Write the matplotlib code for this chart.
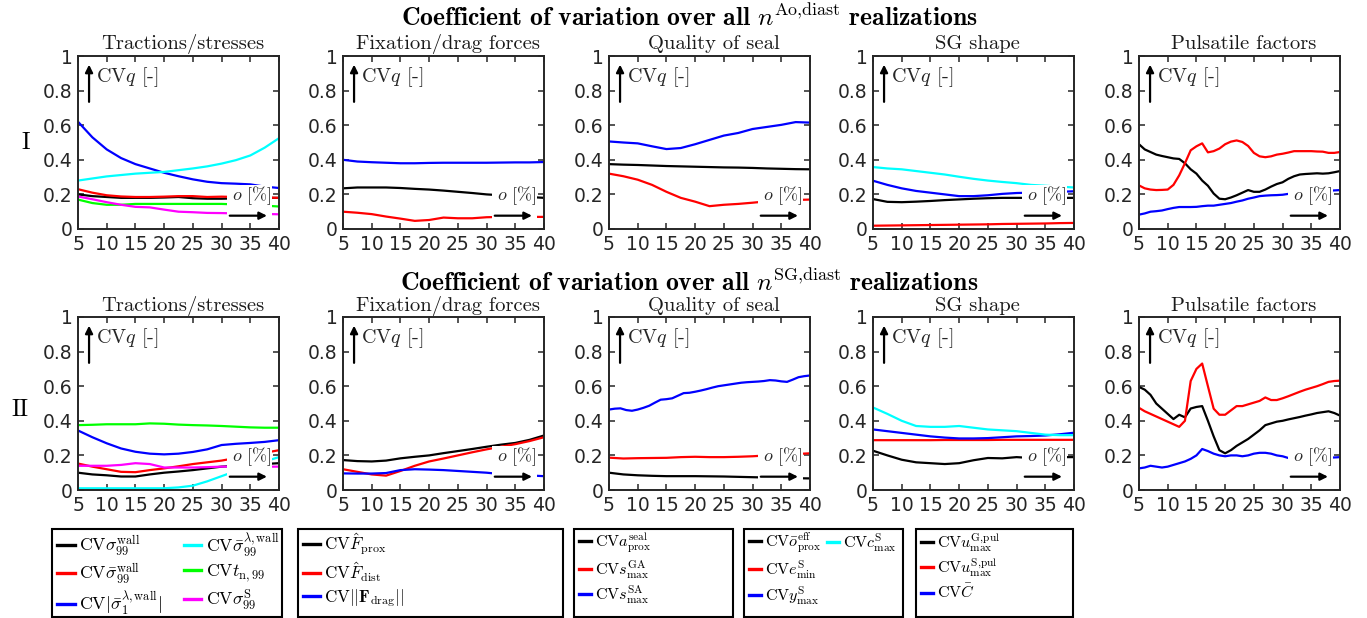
import numpy as np
import matplotlib
matplotlib.use('Agg')
import matplotlib.pyplot as plt
from matplotlib.patches import Rectangle
from matplotlib.lines import Line2D

plt.rcParams['mathtext.fontset'] = 'cm'
plt.rcParams['font.family'] = 'DejaVu Sans'
plt.rcParams['axes.unicode_minus'] = False

# ---------------- data ----------------
o_coarse = [5, 7.5, 10, 12.5, 15, 17.5, 20, 22.5, 25, 27.5, 30, 32.5, 35, 37.5, 40]
o_fine = list(range(5, 41))

# Row I (Ao,diast)
I_trac_black = [0.20, 0.19, 0.185, 0.18, 0.18, 0.18, 0.182, 0.185, 0.178, 0.175, 0.175, 0.177, 0.178, 0.18, 0.18]
I_trac_red = [0.23, 0.21, 0.195, 0.188, 0.185, 0.185, 0.187, 0.19, 0.19, 0.185, 0.187, 0.185, 0.183, 0.182, 0.18]
I_trac_blue = [0.62, 0.53, 0.46, 0.41, 0.375, 0.35, 0.325, 0.305, 0.287, 0.273, 0.265, 0.262, 0.258, 0.245, 0.237]
I_trac_cyan = [0.28, 0.292, 0.304, 0.312, 0.32, 0.325, 0.33, 0.34, 0.35, 0.362, 0.378, 0.398, 0.425, 0.47, 0.525]
I_trac_green = [0.17, 0.15, 0.14, 0.14, 0.145, 0.145, 0.145, 0.145, 0.145, 0.145, 0.145, 0.142, 0.14, 0.135, 0.13]
I_trac_magenta = [0.188, 0.172, 0.155, 0.14, 0.128, 0.125, 0.112, 0.1, 0.097, 0.093, 0.092, 0.09, 0.088, 0.087, 0.085]

I_fix_black = [0.235, 0.24, 0.24, 0.24, 0.237, 0.232, 0.228, 0.222, 0.215, 0.208, 0.2, 0.195, 0.19, 0.185, 0.18]
I_fix_red = [0.1, 0.094, 0.086, 0.072, 0.06, 0.047, 0.052, 0.066, 0.062, 0.062, 0.068, 0.07, 0.07, 0.07, 0.07]
I_fix_blue = [0.4, 0.39, 0.386, 0.383, 0.38, 0.38, 0.382, 0.383, 0.383, 0.383, 0.383, 0.384, 0.385, 0.385, 0.387]

I_seal_black = [0.375, 0.372, 0.37, 0.367, 0.364, 0.362, 0.36, 0.358, 0.356, 0.355, 0.353, 0.35, 0.348, 0.346, 0.345]
I_seal_red = [0.32, 0.305, 0.285, 0.255, 0.215, 0.18, 0.158, 0.132, 0.14, 0.145, 0.152, 0.16, 0.165, 0.168, 0.17]
I_seal_blue = [0.506, 0.5, 0.495, 0.478, 0.462, 0.468, 0.49, 0.515, 0.54, 0.555, 0.578, 0.59, 0.602, 0.618, 0.615]

I_sg_black = [0.173, 0.157, 0.155, 0.158, 0.162, 0.167, 0.171, 0.175, 0.178, 0.18, 0.18, 0.18, 0.18, 0.18, 0.18]
I_sg_red = [0.019, 0.02, 0.021, 0.022, 0.023, 0.024, 0.025, 0.026, 0.027, 0.029, 0.03, 0.031, 0.032, 0.034, 0.035]
I_sg_blue = [0.279, 0.255, 0.235, 0.22, 0.21, 0.2, 0.19, 0.19, 0.195, 0.203, 0.208, 0.21, 0.213, 0.215, 0.218]
I_sg_cyan = [0.358, 0.35, 0.345, 0.335, 0.325, 0.315, 0.302, 0.29, 0.28, 0.272, 0.265, 0.255, 0.25, 0.245, 0.24]

I_pul_black = [0.49, 0.46, 0.445, 0.43, 0.422, 0.415, 0.408, 0.405, 0.38, 0.345, 0.32, 0.28, 0.25, 0.205, 0.175, 0.172,
               0.182, 0.195, 0.21, 0.225, 0.215, 0.215, 0.228, 0.245, 0.26, 0.27, 0.29, 0.305, 0.315, 0.318, 0.32,
               0.322, 0.32, 0.322, 0.328, 0.335]
I_pul_red = [0.252, 0.235, 0.228, 0.225, 0.226, 0.228, 0.255, 0.31, 0.38, 0.455, 0.478, 0.495, 0.443, 0.45, 0.465, 0.49,
             0.505, 0.512, 0.503, 0.48, 0.44, 0.42, 0.415, 0.42, 0.43, 0.435, 0.442, 0.45, 0.45, 0.45, 0.45,
             0.448, 0.447, 0.44, 0.44, 0.445]
I_pul_blue = [0.083, 0.09, 0.1, 0.103, 0.107, 0.115, 0.122, 0.127, 0.127, 0.127, 0.128, 0.132, 0.135, 0.135, 0.14, 0.145,
              0.15, 0.158, 0.165, 0.175, 0.182, 0.19, 0.193, 0.195, 0.196, 0.198, 0.203, 0.207, 0.21, 0.212, 0.215,
              0.217, 0.219, 0.221, 0.223, 0.225]

# Row II (SG,diast)
II_trac_black = [0.1, 0.09, 0.085, 0.078, 0.078, 0.09, 0.1, 0.107, 0.115, 0.125, 0.135, 0.14, 0.145, 0.15, 0.155]
II_trac_red = [0.153, 0.135, 0.12, 0.105, 0.103, 0.115, 0.125, 0.137, 0.15, 0.16, 0.17, 0.185, 0.2, 0.215, 0.23]
II_trac_blue = [0.344, 0.305, 0.27, 0.24, 0.221, 0.21, 0.206, 0.21, 0.22, 0.235, 0.26, 0.267, 0.272, 0.278, 0.288]
II_trac_cyan = [0.01, 0.01, 0.01, 0.01, 0.01, 0.01, 0.01, 0.015, 0.025, 0.05, 0.08, 0.11, 0.14, 0.165, 0.19]
II_trac_green = [0.375, 0.377, 0.38, 0.38, 0.38, 0.385, 0.383, 0.378, 0.375, 0.373, 0.37, 0.366, 0.362, 0.36, 0.36]
II_trac_magenta = [0.14, 0.14, 0.14, 0.145, 0.155, 0.15, 0.13, 0.13, 0.13, 0.132, 0.135, 0.135, 0.135, 0.135, 0.135]

II_fix_black = [0.173, 0.167, 0.165, 0.17, 0.183, 0.192, 0.2, 0.213, 0.225, 0.237, 0.25, 0.262, 0.272, 0.29, 0.315]
II_fix_red = [0.12, 0.105, 0.09, 0.083, 0.11, 0.14, 0.165, 0.182, 0.2, 0.218, 0.235, 0.25, 0.265, 0.283, 0.305]
II_fix_blue = [0.096, 0.095, 0.095, 0.098, 0.115, 0.12, 0.118, 0.115, 0.11, 0.105, 0.1, 0.092, 0.088, 0.084, 0.08]

II_seal_black = [0.1, 0.09, 0.085, 0.082, 0.08, 0.08, 0.08, 0.079, 0.078, 0.076, 0.074, 0.072, 0.07, 0.068, 0.067]
II_seal_red = [0.187, 0.182, 0.184, 0.185, 0.186, 0.19, 0.192, 0.19, 0.19, 0.192, 0.195, 0.2, 0.204, 0.208, 0.212]
II_seal_blue = [0.465, 0.47, 0.472, 0.462, 0.458, 0.465, 0.475, 0.487, 0.505, 0.522, 0.525, 0.53, 0.545, 0.56, 0.562,
                0.568, 0.575, 0.583, 0.592, 0.6, 0.605, 0.61, 0.615, 0.62, 0.623, 0.625, 0.627, 0.63, 0.635, 0.633,
                0.628, 0.625, 0.638, 0.652, 0.658, 0.662]

II_sg_black = [0.227, 0.2, 0.175, 0.16, 0.155, 0.15, 0.155, 0.172, 0.185, 0.183, 0.19, 0.185, 0.188, 0.19, 0.19]
II_sg_red = [0.288, 0.288, 0.288, 0.288, 0.288, 0.289, 0.289, 0.289, 0.289, 0.29, 0.29, 0.29, 0.29, 0.29, 0.29]
II_sg_blue = [0.35, 0.34, 0.33, 0.32, 0.31, 0.303, 0.298, 0.298, 0.3, 0.305, 0.31, 0.312, 0.315, 0.322, 0.331]
II_sg_cyan = [0.477, 0.44, 0.4, 0.37, 0.365, 0.365, 0.37, 0.36, 0.35, 0.345, 0.34, 0.33, 0.32, 0.317, 0.317]

II_pul_black = [0.596, 0.58, 0.55, 0.5, 0.47, 0.44, 0.41, 0.435, 0.42, 0.471, 0.48, 0.485, 0.4, 0.31, 0.23, 0.212,
                0.23, 0.255, 0.275, 0.295, 0.32, 0.345, 0.375, 0.385, 0.395, 0.4, 0.408, 0.415, 0.422, 0.43, 0.437,
                0.445, 0.45, 0.455, 0.445, 0.43]
II_pul_red = [0.475, 0.455, 0.44, 0.425, 0.41, 0.395, 0.38, 0.365, 0.4, 0.63, 0.7, 0.731, 0.6, 0.47, 0.435, 0.435,
              0.46, 0.485, 0.485, 0.495, 0.505, 0.515, 0.535, 0.52, 0.52, 0.53, 0.542, 0.555, 0.568, 0.58, 0.59,
              0.6, 0.612, 0.625, 0.63, 0.632]
II_pul_blue = [0.125, 0.13, 0.14, 0.135, 0.13, 0.135, 0.145, 0.155, 0.165, 0.18, 0.2, 0.237, 0.225, 0.21, 0.2, 0.195,
               0.2, 0.2, 0.195, 0.2, 0.21, 0.215, 0.215, 0.21, 0.2, 0.195, 0.185, 0.18, 0.18, 0.182, 0.183,
               0.185, 0.186, 0.187, 0.188, 0.19]

panel_titles = ['Tractions/stresses', 'Fixation/drag forces', 'Quality of seal', 'SG shape', 'Pulsatile factors']
row_labels = ['I', 'II']
row_titles = [r'$\mathbf{Coefficient\ of\ variation\ over\ all}\ n^{\mathrm{Ao{,}diast}}\ \mathbf{realizations}$',
              r'$\mathbf{Coefficient\ of\ variation\ over\ all}\ n^{\mathrm{SG{,}diast}}\ \mathbf{realizations}$']

legend_labels = [
    [r'$\mathrm{CV}\sigma_{99}^{\mathrm{wall}}$', r'$\mathrm{CV}\bar{\sigma}_{99}^{\mathrm{wall}}$',
     r'$\mathrm{CV}|\bar{\sigma}_1^{\lambda,\mathrm{wall}}|$', r'$\mathrm{CV}\bar{\sigma}_{99}^{\lambda,\mathrm{wall}}$',
     r'$\mathrm{CV}t_{\mathrm{n},99}$', r'$\mathrm{CV}\sigma_{99}^{\mathrm{S}}$'],
    [r'$\mathrm{CV}\hat{F}_{\mathrm{prox}}$', r'$\mathrm{CV}\hat{F}_{\mathrm{dist}}$',
     r'$\mathrm{CV}||\mathbf{F}_{\mathrm{drag}}||$'],
    [r'$\mathrm{CV}a_{\mathrm{prox}}^{\mathrm{seal}}$', r'$\mathrm{CV}s_{\max}^{\mathrm{GA}}$',
     r'$\mathrm{CV}s_{\max}^{\mathrm{SA}}$'],
    [r'$\mathrm{CV}\bar{o}_{\mathrm{prox}}^{\mathrm{eff}}$', r'$\mathrm{CV}e_{\min}^{\mathrm{S}}$',
     r'$\mathrm{CV}y_{\max}^{\mathrm{S}}$', r'$\mathrm{CV}c_{\max}^{\mathrm{S}}$'],
    [r'$\mathrm{CV}u_{\max}^{\mathrm{G{,}pul}}$', r'$\mathrm{CV}u_{\max}^{\mathrm{S{,}pul}}$', r'$\mathrm{CV}\bar{C}$'],
]

K, R, B, C, G, M = '#000000', '#FF0000', '#0000FF', '#00FFFF', '#00FF00', '#FF00FF'

# (x-grid, [(values, colour), ...]) per panel
panels = [
    [
        (o_coarse, [(I_trac_black, K), (I_trac_red, R), (I_trac_blue, B), (I_trac_cyan, C),
                    (I_trac_green, G), (I_trac_magenta, M)]),
        (o_coarse, [(I_fix_black, K), (I_fix_red, R), (I_fix_blue, B)]),
        (o_coarse, [(I_seal_black, K), (I_seal_red, R), (I_seal_blue, B)]),
        (o_coarse, [(I_sg_black, K), (I_sg_red, R), (I_sg_blue, B), (I_sg_cyan, C)]),
        (o_fine, [(I_pul_black, K), (I_pul_red, R), (I_pul_blue, B)]),
    ],
    [
        (o_coarse, [(II_trac_black, K), (II_trac_red, R), (II_trac_blue, B), (II_trac_cyan, C),
                    (II_trac_green, G), (II_trac_magenta, M)]),
        (o_coarse, [(II_fix_black, K), (II_fix_red, R), (II_fix_blue, B)]),
        (None, [(II_seal_black, K), (II_seal_red, R), (II_seal_blue, B)]),
        (o_coarse, [(II_sg_black, K), (II_sg_red, R), (II_sg_blue, B), (II_sg_cyan, C)]),
        (o_fine, [(II_pul_black, K), (II_pul_red, R), (II_pul_blue, B)]),
    ],
]

# ---------------- layout ----------------
W, H = 1367, 618
fig = plt.figure(figsize=(W / 100, H / 100), dpi=100)

def fx(px):
    return px / W

def fy(py):
    return 1 - py / H

col_left = [78, 343, 609, 873, 1139]
ax_w = 201
row_top = [56, 317]
ax_h = 173
dark = '#262626'

all_handles = [None] * 5
for r in range(2):
    for c in range(5):
        ax = fig.add_axes([fx(col_left[c]), fy(row_top[r] + ax_h), fx(ax_w), ax_h / H])
        xg, series = panels[r][c]
        handles = []
        for vals, col in series:
            x = xg if xg is not None else (o_fine if len(vals) == len(o_fine) else o_coarse)
            h, = ax.plot(x, vals, color=col, lw=1.6, zorder=2, solid_capstyle='butt')
            handles.append(h)
        if r == 0:
            all_handles[c] = handles
        ax.set_xlim(5, 40)
        ax.set_ylim(0, 1)
        ax.set_xticks([5, 10, 15, 20, 25, 30, 35, 40])
        ax.set_yticks([0, 0.2, 0.4, 0.6, 0.8, 1])
        ax.set_yticklabels(['0', '0.2', '0.4', '0.6', '0.8', '1'])
        ax.tick_params(direction='in', length=4, width=1.1, top=True, right=True,
                       labelsize=13.5, colors=dark, pad=4)
        for sp in ax.spines.values():
            sp.set_linewidth(1.4)
            sp.set_color(dark)
        t = ax.set_title(panel_titles[c], family='cmr10', fontsize=14.8, color='#1a1a1a',
                         pad=5 if r == 0 else 4)
        t.set_x(0.52)
        # white label area
        ax.add_patch(Rectangle((30.9, 0.05), 7.9, 0.205, facecolor='white', edgecolor='none', zorder=3))
        ax.annotate('', xy=(0.055, 0.95), xytext=(0.055, 0.735), xycoords='axes fraction',
                    arrowprops=dict(arrowstyle='-|>', color='k', lw=1.6, mutation_scale=11,
                                    shrinkA=0, shrinkB=0), zorder=5)
        ax.text(0.09, 0.877, r'CV$q$ [-]', transform=ax.transAxes, family='cmr10', fontsize=14.5,
                va='center', ha='left', color=dark, zorder=5)
        ax.text(0.962, 0.19, r'$o$ [%]', transform=ax.transAxes, family='cmr10', fontsize=13,
                va='center', ha='right', color=dark, zorder=5)
        ax.annotate('', xy=(0.94, 0.077), xytext=(0.755, 0.077), xycoords='axes fraction',
                    arrowprops=dict(arrowstyle='-|>', color='k', lw=1.6, mutation_scale=11,
                                    shrinkA=0, shrinkB=0), zorder=5)

# row labels and titles
fig.text(fx(26), fy(143), row_labels[0], family='cmr10', fontsize=17, ha='center', va='center')
fig.text(fx(20), fy(410), row_labels[1], family='cmr10', fontsize=17, ha='center', va='center')
fig.text(fx(689), fy(18), row_titles[0], fontsize=18.5, ha='center', va='center')
fig.text(fx(689), fy(283), row_titles[1], fontsize=18.5, ha='center', va='center')

# legend boxes
box_x = [(52, 282), (298, 563), (574, 733), (744, 903), (916, 1073)]
box_fs = [12.8, 12.3, 11.6, 11.6, 11.6]
box_hl = [1.0, 1.0, 0.75, 0.75, 0.75]
box_top, box_bot = 529, 617
for c, (x0, x1) in enumerate(box_x):
    fig.add_artist(Rectangle((fx(x0), fy(box_bot)), fx(x1 - x0), (box_bot - box_top) / H,
                             transform=fig.transFigure, fill=False, edgecolor='k', lw=1.5))
    hs = [Line2D([], [], color=h.get_color(), lw=2.4) for h in all_handles[c]]
    labs = list(legend_labels[c])
    kw = dict(loc='upper left', frameon=False, fontsize=box_fs[c], handlelength=box_hl[c],
              handletextpad=0.25, labelspacing=0.2, borderpad=0, borderaxespad=0, columnspacing=1.2)
    if c == 3:
        fig.legend(hs[:3], labs[:3], bbox_to_anchor=(fx(x0 + 5), fy(box_top + 2)), ncol=1, **kw)
        fig.legend(hs[3:], labs[3:], bbox_to_anchor=(fx(827), fy(box_top + 2)), ncol=1, **kw)
    else:
        fig.legend(hs, labs, bbox_to_anchor=(fx(x0 + 5), fy(box_top + 2)),
                   ncol=2 if c == 0 else 1, **kw)

fig.savefig('out.png', dpi=100)
